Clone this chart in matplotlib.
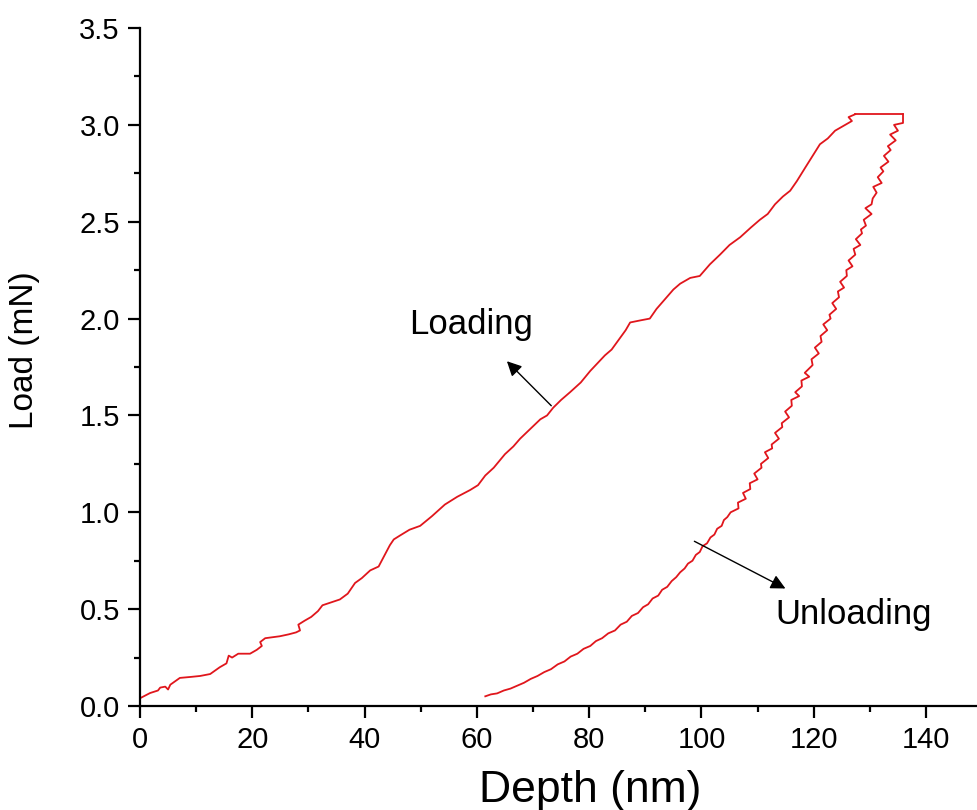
import matplotlib
matplotlib.use("Agg")
import matplotlib.pyplot as plt
from matplotlib.ticker import MultipleLocator

plt.rcParams['font.family'] = ['Liberation Sans', 'DejaVu Sans']

# loading branch (depth nm, load mN)
load_depth = [0, 1.8, 3.2, 3.6, 4.5, 5.0, 5.4, 7.1, 9.0, 10.7, 12.5, 14.2, 15.4, 15.8, 16.4, 17.5,
              19.6, 20.8, 21.7, 21.4, 22.3, 24.9, 26.5, 27.8, 28.5, 28.2, 29.3, 30.5, 31.7, 32.5,
              35.6, 37.0, 38.3, 39.5, 41.0, 42.5, 44.5, 45.2, 46.3, 48.0, 49.9, 52.0, 54.3, 56.5,
              58.8, 60.2, 61.5, 63.0, 65.0, 66.5, 67.7, 69.5, 71.3, 72.5, 73.6, 75.0, 76.6, 78.5,
              80.2, 81.5, 82.8, 84.0, 85.5, 86.5, 87.3, 89.0, 90.8, 92.0, 93.5, 95.0, 96.2, 98.0,
              99.7, 101.5, 103.3, 105.0, 106.9, 108.8, 110.4, 111.8, 113.1, 114.5, 115.8, 117.0,
              118.5, 119.8, 121.1, 122.5, 123.8, 125.0, 125.6, 126.8, 126.2, 127.4]
load_force = [0.04, 0.067, 0.08, 0.095, 0.10, 0.085, 0.11, 0.145, 0.15, 0.155, 0.165, 0.20, 0.22,
              0.26, 0.25, 0.27, 0.27, 0.29, 0.31, 0.33, 0.35, 0.36, 0.37, 0.38, 0.39, 0.42, 0.44,
              0.46, 0.49, 0.52, 0.55, 0.58, 0.635, 0.66, 0.70, 0.72, 0.83, 0.86, 0.88, 0.91, 0.93,
              0.98, 1.04, 1.08, 1.115, 1.14, 1.19, 1.23, 1.30, 1.34, 1.38, 1.43, 1.48, 1.50, 1.54,
              1.58, 1.62, 1.67, 1.73, 1.77, 1.81, 1.84, 1.90, 1.94, 1.98, 1.99, 2.00, 2.05, 2.10,
              2.15, 2.18, 2.21, 2.22, 2.28, 2.33, 2.38, 2.42, 2.47, 2.51, 2.54, 2.59, 2.63, 2.66,
              2.71, 2.78, 2.84, 2.90, 2.93, 2.97, 2.99, 3.00, 3.02, 3.04, 3.055]

# hold at peak load
hold_depth = [127.4, 135.9]
hold_force = [3.055, 3.055]

# unloading branch (noisy)
unload_depth = [135.9, 135.9, 134.3, 135.0, 133.6, 134.6, 133.2, 133.7, 132.5, 133.3, 131.9, 132.4,
                131.4, 132.1, 130.6, 131.2, 130.5, 130.3, 129.2, 130.3, 128.9, 129.3, 128.4, 128.6,
                127.5, 128.3, 127.1, 127.4, 126.2, 126.9, 125.8, 125.9, 124.7, 125.4, 124.3, 124.5,
                123.3, 124.0, 122.8, 123.0,
                121.7, 122.4, 121.2, 121.4, 120.2, 120.9, 119.6, 119.8, 118.4, 119.2, 117.8, 117.9,
                116.7, 117.4, 116.0, 116.1, 114.9, 115.6, 114.3, 114.4, 113.1, 113.8, 112.5, 112.6,
                111.3, 111.9, 110.6, 110.7, 109.4, 110.0, 108.6, 108.7, 107.4, 107.9, 106.5, 106.6,
                105.2,
                104.6, 104.0, 103.6, 102.8, 102.3, 101.6, 101.0, 100.2, 99.7, 99.0, 98.4, 97.6, 97.0,
                96.2, 95.5, 94.7, 93.9, 93.0, 92.3, 91.3, 90.5, 89.6, 88.7, 87.6, 86.7, 85.6, 84.6,
                83.4, 82.3, 81.2, 80.2, 79.0, 77.9, 76.7, 75.6, 74.4, 73.2, 72.0, 70.8, 69.6, 68.4,
                67.2, 66.0, 64.8, 63.6, 62.5, 61.5]
unload_force = [3.055, 3.01, 3.00, 2.97, 2.95, 2.92, 2.89, 2.87, 2.84, 2.81, 2.78, 2.76, 2.73, 2.70,
                2.68, 2.65, 2.62, 2.59, 2.57, 2.54, 2.51, 2.48, 2.46, 2.44, 2.41, 2.38, 2.36, 2.33,
                2.30, 2.27, 2.25, 2.22, 2.19, 2.16, 2.14, 2.11, 2.08, 2.05, 2.02, 2.00,
                1.97, 1.94, 1.91, 1.88, 1.85, 1.82, 1.79, 1.76, 1.72, 1.70, 1.68, 1.65, 1.62, 1.60,
                1.58, 1.55, 1.52, 1.49, 1.46, 1.44, 1.41, 1.38, 1.35, 1.33, 1.31, 1.28, 1.25, 1.23,
                1.20, 1.17, 1.15, 1.12, 1.10, 1.07, 1.05, 1.02, 1.00,
                0.975, 0.96, 0.93, 0.915, 0.885, 0.87, 0.84, 0.825, 0.795, 0.78, 0.75, 0.735, 0.71,
                0.69, 0.665, 0.645, 0.615, 0.60, 0.57, 0.555, 0.525, 0.51, 0.48, 0.465, 0.435, 0.42,
                0.39, 0.375, 0.35, 0.335, 0.31, 0.295, 0.27, 0.255, 0.23, 0.215, 0.19, 0.175, 0.155,
                0.14, 0.12, 0.105, 0.09, 0.08, 0.065, 0.06, 0.05]

red = '#e0161c'

fig = plt.figure(figsize=(9.77, 8.10), dpi=100)
ax = fig.add_axes([0.1433, 0.1284, 0.862, 0.837])

ax.plot(load_depth, load_force, color=red, lw=1.3)
ax.plot(hold_depth, hold_force, color=red, lw=1.3)
ax.plot(unload_depth, unload_force, color=red, lw=1.3)

ax.set_xlim(0, 150)
ax.set_ylim(0, 3.5)
ax.xaxis.set_major_locator(MultipleLocator(20))
ax.xaxis.set_minor_locator(MultipleLocator(10))
ax.yaxis.set_major_locator(MultipleLocator(0.5))
ax.yaxis.set_minor_locator(MultipleLocator(0.25))
ax.yaxis.set_major_formatter(plt.FormatStrFormatter('%.1f'))

for s in ['top', 'right']:
    ax.spines[s].set_visible(False)
for s in ['left', 'bottom']:
    ax.spines[s].set_linewidth(1.6)
ax.tick_params(which='major', direction='out', length=8.5, width=1.6, labelsize=21, pad=6)
ax.tick_params(which='minor', direction='out', length=4.5, width=1.6)

ax.set_xlabel('Depth (nm)', fontsize=32)
ax.set_ylabel('Load (mN)', fontsize=24)
ax.xaxis.set_label_coords(0.534, -0.124)
ax.yaxis.set_label_coords(-0.137, 0.525)
ax.xaxis.label.set_va('center')
ax.yaxis.label.set_va('center')

ax.annotate('', xy=(65.0, 1.79), xytext=(73.6, 1.54),
            arrowprops=dict(arrowstyle='-|>', color='black', lw=1.0, mutation_scale=22))
ax.annotate('', xy=(115.4, 0.60), xytext=(98.3, 0.857),
            arrowprops=dict(arrowstyle='-|>', color='black', lw=1.0, mutation_scale=22))
ax.text(47.9, 1.97, 'Loading', fontsize=25, va='center', ha='left')
ax.text(113.1, 0.47, 'Unloading', fontsize=25, va='center', ha='left')

fig.savefig('out.png', dpi=100)
